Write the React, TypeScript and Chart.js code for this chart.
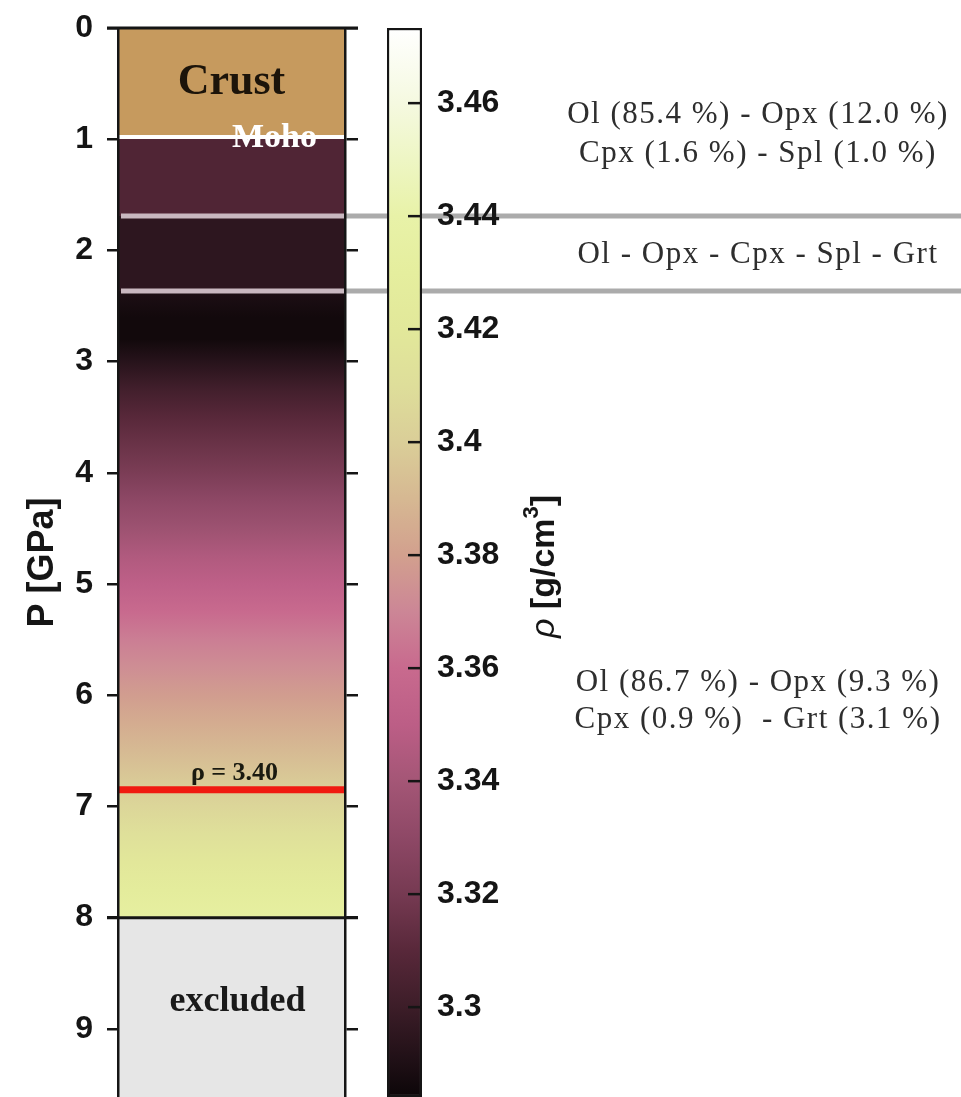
import React, { useEffect, useRef } from 'react';
import { Chart, registerables } from 'chart.js';

Chart.register(...registerables);

// ---- Pressure axis (GPa) ----
const P_MAX = 9.613;
const pressureTicks = [0, 1, 2, 3, 4, 5, 6, 7, 8, 9];
const pressureTickLabels = ['0', '1', '2', '3', '4', '5', '6', '7', '8', '9'];

// ---- Column layers ----
const layerNames = ['Crust', 'Mantle', 'excluded'];
const layerTopP = [0, 0.98, 8];
const layerBottomP = [0.98, 8, P_MAX];

// ---- Density profile through the mantle (P in GPa, rho in g/cm3) ----
const profilePressure = [0.98, 1.69, 1.69, 2.365, 2.365, 2.6, 2.8, 3.0, 3.25, 3.5, 3.75, 4.0, 4.25, 4.5, 4.75, 5.0, 5.25, 5.5, 5.75, 6.0, 6.25, 6.5, 6.85, 7.0, 7.25, 7.5, 7.75, 8.0];
const profileDensity = [3.307, 3.307, 3.295, 3.295, 3.29, 3.286, 3.286, 3.293, 3.302, 3.31, 3.316, 3.322, 3.33, 3.337, 3.345, 3.352, 3.36, 3.367, 3.373, 3.379, 3.385, 3.391, 3.4, 3.405, 3.412, 3.419, 3.426, 3.432];

// ---- Boundaries ----
const mohoP = 0.98;
const assemblageBoundaryP = [1.69, 2.365];
const isoDensity = 3.4;
const isoDensityLabel = 'ρ = 3.40';

// ---- Mineral assemblages ----
const assemblageLines = [
  'Ol (85.4 %) - Opx (12.0 %)',
  'Cpx (1.6 %) - Spl (1.0 %)',
  'Ol - Opx - Cpx - Spl - Grt',
  'Ol (86.7 %) - Opx (9.3 %)',
  'Cpx (0.9 %)  - Grt (3.1 %)',
];
const assemblageLineP = [0.78, 1.13, 2.04, 5.89, 6.22];

// ---- Density colour scale ----
const densityMin = 3.2841;
const densityMax = 3.4733;
const densityTicks = [3.3, 3.32, 3.34, 3.36, 3.38, 3.4, 3.42, 3.44, 3.46];
const densityTickLabels = ['3.3', '3.32', '3.34', '3.36', '3.38', '3.4', '3.42', '3.44', '3.46'];
const colormapDensity = [3.2841, 3.29, 3.3, 3.31, 3.32, 3.33, 3.34, 3.35, 3.36, 3.37, 3.38, 3.39, 3.4, 3.41, 3.42, 3.43, 3.44, 3.45, 3.46, 3.4733];
const colormapColors = ['#0C0608', '#1E0F15', '#3C1D28', '#58283A', '#763A52', '#8E4866', '#A45676', '#BC5E86', '#C86A8E', '#CC8696', '#D2A08E', '#D6B892', '#DACE98', '#DEDE9A', '#E2E89A', '#E5EE9E', '#E8F2A8', '#EEF6C4', '#F5F9E0', '#FFFFFF'];

const CRUST_COLOR = '#C69A5E';
const EXCLUDED_COLOR = '#E6E6E6';
const INK = '#151515';
const SANS = "'Liberation Sans', Arial, Helvetica, sans-serif";
const SERIF = "'Liberation Serif', 'Times New Roman', serif";

const W = 961;
const H = 1097;

function hexToRgb(hex: string): number[] {
  const v = parseInt(hex.slice(1), 16);
  return [(v >> 16) & 255, (v >> 8) & 255, v & 255];
}

function densityColor(rho: number): string {
  const r = Math.min(densityMax, Math.max(densityMin, rho));
  let i = 0;
  while (i < colormapDensity.length - 2 && r > colormapDensity[i + 1]) i++;
  const t = (r - colormapDensity[i]) / (colormapDensity[i + 1] - colormapDensity[i]);
  const a = hexToRgb(colormapColors[i]);
  const b = hexToRgb(colormapColors[i + 1]);
  const c = a.map((v, k) => Math.round(v + (b[k] - v) * t));
  return `rgb(${c[0]},${c[1]},${c[2]})`;
}

// pressure at which the profile first reaches the given density
function pressureAtDensity(rho: number): number {
  for (let i = 0; i < profileDensity.length - 1; i++) {
    const d0 = profileDensity[i];
    const d1 = profileDensity[i + 1];
    if (d0 !== d1 && (d0 - rho) * (d1 - rho) <= 0) {
      return profilePressure[i] + ((rho - d0) / (d1 - d0)) * (profilePressure[i + 1] - profilePressure[i]);
    }
  }
  return NaN;
}

function mantleFill(chart: any): any {
  const y = chart.scales && chart.scales.y;
  if (!chart.chartArea || !y) return densityColor(profileDensity[0]);
  const top = layerTopP[1];
  const bottom = layerBottomP[1];
  const g = chart.ctx.createLinearGradient(0, y.getPixelForValue(top), 0, y.getPixelForValue(bottom));
  profilePressure.forEach((p, i) => {
    const t = Math.min(1, Math.max(0, (p - top) / (bottom - top)));
    g.addColorStop(t, densityColor(profileDensity[i]));
  });
  return g;
}

function colorbarFill(chart: any): any {
  const y = chart.scales && chart.scales.y;
  if (!chart.chartArea || !y) return colormapColors[0];
  const g = chart.ctx.createLinearGradient(0, y.getPixelForValue(densityMin), 0, y.getPixelForValue(densityMax));
  colormapDensity.forEach((d, i) => {
    const t = Math.min(1, Math.max(0, (d - densityMin) / (densityMax - densityMin)));
    g.addColorStop(t, colormapColors[i]);
  });
  return g;
}

function hLine(ctx: CanvasRenderingContext2D, x0: number, x1: number, y: number, color: string, width: number) {
  ctx.beginPath();
  ctx.strokeStyle = color;
  ctx.lineWidth = width;
  ctx.moveTo(x0, y);
  ctx.lineTo(x1, y);
  ctx.stroke();
}

const columnOverlay = {
  id: 'columnOverlay',
  afterDatasetsDraw(chart: any) {
    const { ctx, chartArea: a } = chart;
    const y = chart.scales.y;
    const cx = (a.left + a.right) / 2;
    ctx.save();

    // top of the column and top of the excluded zone
    hLine(ctx, a.left - 11, a.right + 13, y.getPixelForValue(0), INK, 3);
    hLine(ctx, a.left - 11, a.right + 13, y.getPixelForValue(layerTopP[2]), INK, 3);

    // Moho
    hLine(ctx, a.left, a.right, y.getPixelForValue(mohoP), '#FFFFFF', 4);

    // assemblage boundaries
    assemblageBoundaryP.forEach((p) => {
      const py = y.getPixelForValue(p);
      hLine(ctx, a.left + 3, a.right, py, '#C9B8C0', 5);
      hLine(ctx, a.right, chart.width, py, '#ABABAB', 5);
    });

    // iso-density line
    const isoP = pressureAtDensity(isoDensity);
    const isoY = y.getPixelForValue(isoP);
    hLine(ctx, a.left, a.right, isoY, '#F01A10', 7);

    ctx.textAlign = 'center';
    ctx.textBaseline = 'middle';

    ctx.fillStyle = '#1C140A';
    ctx.font = `bold 44px ${SERIF}`;
    ctx.fillText(layerNames[0], cx, y.getPixelForValue((layerTopP[0] + layerBottomP[0]) / 2));

    ctx.fillStyle = '#FFFFFF';
    ctx.font = `bold 34px ${SERIF}`;
    ctx.fillText('Moho', cx + 43, y.getPixelForValue(mohoP) + 1);

    ctx.fillStyle = '#1A1A10';
    ctx.font = `bold 26px ${SERIF}`;
    ctx.fillText(isoDensityLabel, cx + 3, isoY - 16);

    ctx.fillStyle = '#1A1A1A';
    ctx.font = `bold 36px ${SERIF}`;
    ctx.fillText(layerNames[2], cx + 6, y.getPixelForValue(9.0) - 27);

    // mineral assemblages
    ctx.fillStyle = '#2E2E2E';
    ctx.font = `31px ${SERIF}`;
    (ctx as any).letterSpacing = '1.5px';
    assemblageLines.forEach((t, i) => {
      ctx.fillText(t, 758, y.getPixelForValue(assemblageLineP[i]));
    });
    (ctx as any).letterSpacing = '0px';
    ctx.restore();
  },
};

const colorbarOverlay = {
  id: 'colorbarOverlay',
  afterDatasetsDraw(chart: any) {
    const { ctx, chartArea: a } = chart;
    const y = chart.scales.y;
    ctx.save();
    // inward tick marks
    densityTicks.forEach((v) => {
      hLine(ctx, a.right - 14, a.right, y.getPixelForValue(v), INK, 2.5);
    });

    // axis title, reading upward
    const main = `bold 34px ${SANS}`;
    const ital = `italic 34px ${SANS}`;
    const sup = `bold 22px ${SANS}`;
    const parts = [
      { t: 'ρ', f: ital, dy: 0 },
      { t: ' [g/cm', f: main, dy: 0 },
      { t: '3', f: sup, dy: -13 },
      { t: ']', f: main, dy: 0 },
    ];
    let total = 0;
    parts.forEach((p) => {
      ctx.font = p.f;
      total += ctx.measureText(p.t).width;
    });
    ctx.translate(545, (a.top + a.bottom) / 2 + 4);
    ctx.rotate(-Math.PI / 2);
    ctx.fillStyle = INK;
    ctx.textBaseline = 'middle';
    ctx.textAlign = 'left';
    let x = -total / 2;
    parts.forEach((p) => {
      ctx.font = p.f;
      ctx.fillText(p.t, x, p.dy);
      x += ctx.measureText(p.t).width;
    });
    ctx.restore();
  },
};

export default function App() {
  const columnRef = useRef<HTMLCanvasElement | null>(null);
  const barRef = useRef<HTMLCanvasElement | null>(null);

  useEffect(() => {
    const tickFont = { family: SANS, size: 32, weight: 'bold' as const };

    const columnChart = new Chart(columnRef.current as HTMLCanvasElement, {
      type: 'bar',
      data: {
        labels: ['P'],
        datasets: layerNames.map((name, i) => ({
          label: name,
          data: [[layerTopP[i], layerBottomP[i]]] as any,
          backgroundColor: i === 0 ? CRUST_COLOR : i === 2 ? EXCLUDED_COLOR : (c: any) => mantleFill(c.chart),
          borderWidth: 0,
          barPercentage: 1,
          categoryPercentage: 1,
        })),
      },
      options: {
        responsive: false,
        animation: false,
        events: [],
        layout: { padding: { left: 0, top: 28, right: W - 345 - 13, bottom: 0 } },
        plugins: { legend: { display: false }, tooltip: { enabled: false } },
        scales: {
          x: { type: 'category', display: false, stacked: true },
          y: {
            type: 'linear',
            position: 'left',
            reverse: true,
            min: 0,
            max: P_MAX,
            afterBuildTicks: (s: any) => {
              s.ticks = pressureTicks.map((v) => ({ value: v }));
            },
            afterFit: (s: any) => {
              s.width = 118;
              s.paddingTop = 0;
              s.paddingBottom = 0;
            },
            ticks: {
              autoSkip: false,
              padding: 14,
              color: INK,
              font: tickFont,
              callback: (_v: any, i: number) => pressureTickLabels[i],
            },
            grid: { drawOnChartArea: false, drawTicks: true, tickLength: 11, color: INK, lineWidth: 2.5, z: 1 },
            border: { display: true, color: INK, width: 2.5, z: 1 },
            title: {
              display: true,
              text: 'P [GPa]',
              color: INK,
              font: { family: SANS, size: 36, weight: 'bold' },
              padding: { top: 21, bottom: 0 },
            },
          },
          y2: {
            type: 'linear',
            position: 'right',
            reverse: true,
            min: 0,
            max: P_MAX,
            afterBuildTicks: (s: any) => {
              s.ticks = pressureTicks.map((v) => ({ value: v }));
            },
            afterFit: (s: any) => {
              s.width = 13;
              s.paddingTop = 0;
              s.paddingBottom = 0;
            },
            ticks: { display: false },
            grid: { drawOnChartArea: false, drawTicks: true, tickLength: 13, color: INK, lineWidth: 2.5, z: 1 },
            border: { display: true, color: INK, width: 2.5, z: 1 },
          },
        },
      } as any,
      plugins: [columnOverlay],
    });

    const colorbarChart = new Chart(barRef.current as HTMLCanvasElement, {
      type: 'bar',
      data: {
        labels: ['ρ'],
        datasets: [
          {
            label: 'ρ [g/cm³]',
            data: [[densityMin, densityMax]] as any,
            backgroundColor: (c: any) => colorbarFill(c.chart),
            borderColor: INK,
            borderWidth: 2.5,
            borderSkipped: false,
            barPercentage: 1,
            categoryPercentage: 1,
          },
        ],
      },
      options: {
        responsive: false,
        animation: false,
        events: [],
        layout: { padding: { left: 387, top: 28, right: W - 422 - 100, bottom: 0 } },
        plugins: { legend: { display: false }, tooltip: { enabled: false } },
        scales: {
          x: { type: 'category', display: false },
          y: {
            type: 'linear',
            position: 'right',
            min: densityMin,
            max: densityMax,
            afterBuildTicks: (s: any) => {
              s.ticks = densityTicks.map((v) => ({ value: v }));
            },
            afterFit: (s: any) => {
              s.width = 100;
              s.paddingTop = 0;
              s.paddingBottom = 0;
            },
            ticks: {
              autoSkip: false,
              padding: 15,
              color: INK,
              font: tickFont,
              callback: (_v: any, i: number) => densityTickLabels[i],
            },
            grid: { drawOnChartArea: false, drawTicks: false },
            border: { display: false },
          },
        },
      } as any,
      plugins: [colorbarOverlay],
    });

    return () => {
      columnChart.destroy();
      colorbarChart.destroy();
    };
  }, []);

  return (
    <div style={{ position: 'fixed', left: 0, top: 0, width: W, height: H, background: '#FFFFFF', overflow: 'hidden' }}>
      <canvas ref={columnRef} width={W} height={H} style={{ position: 'absolute', left: 0, top: 0 }} />
      <canvas ref={barRef} width={W} height={H} style={{ position: 'absolute', left: 0, top: 0 }} />
    </div>
  );
}
